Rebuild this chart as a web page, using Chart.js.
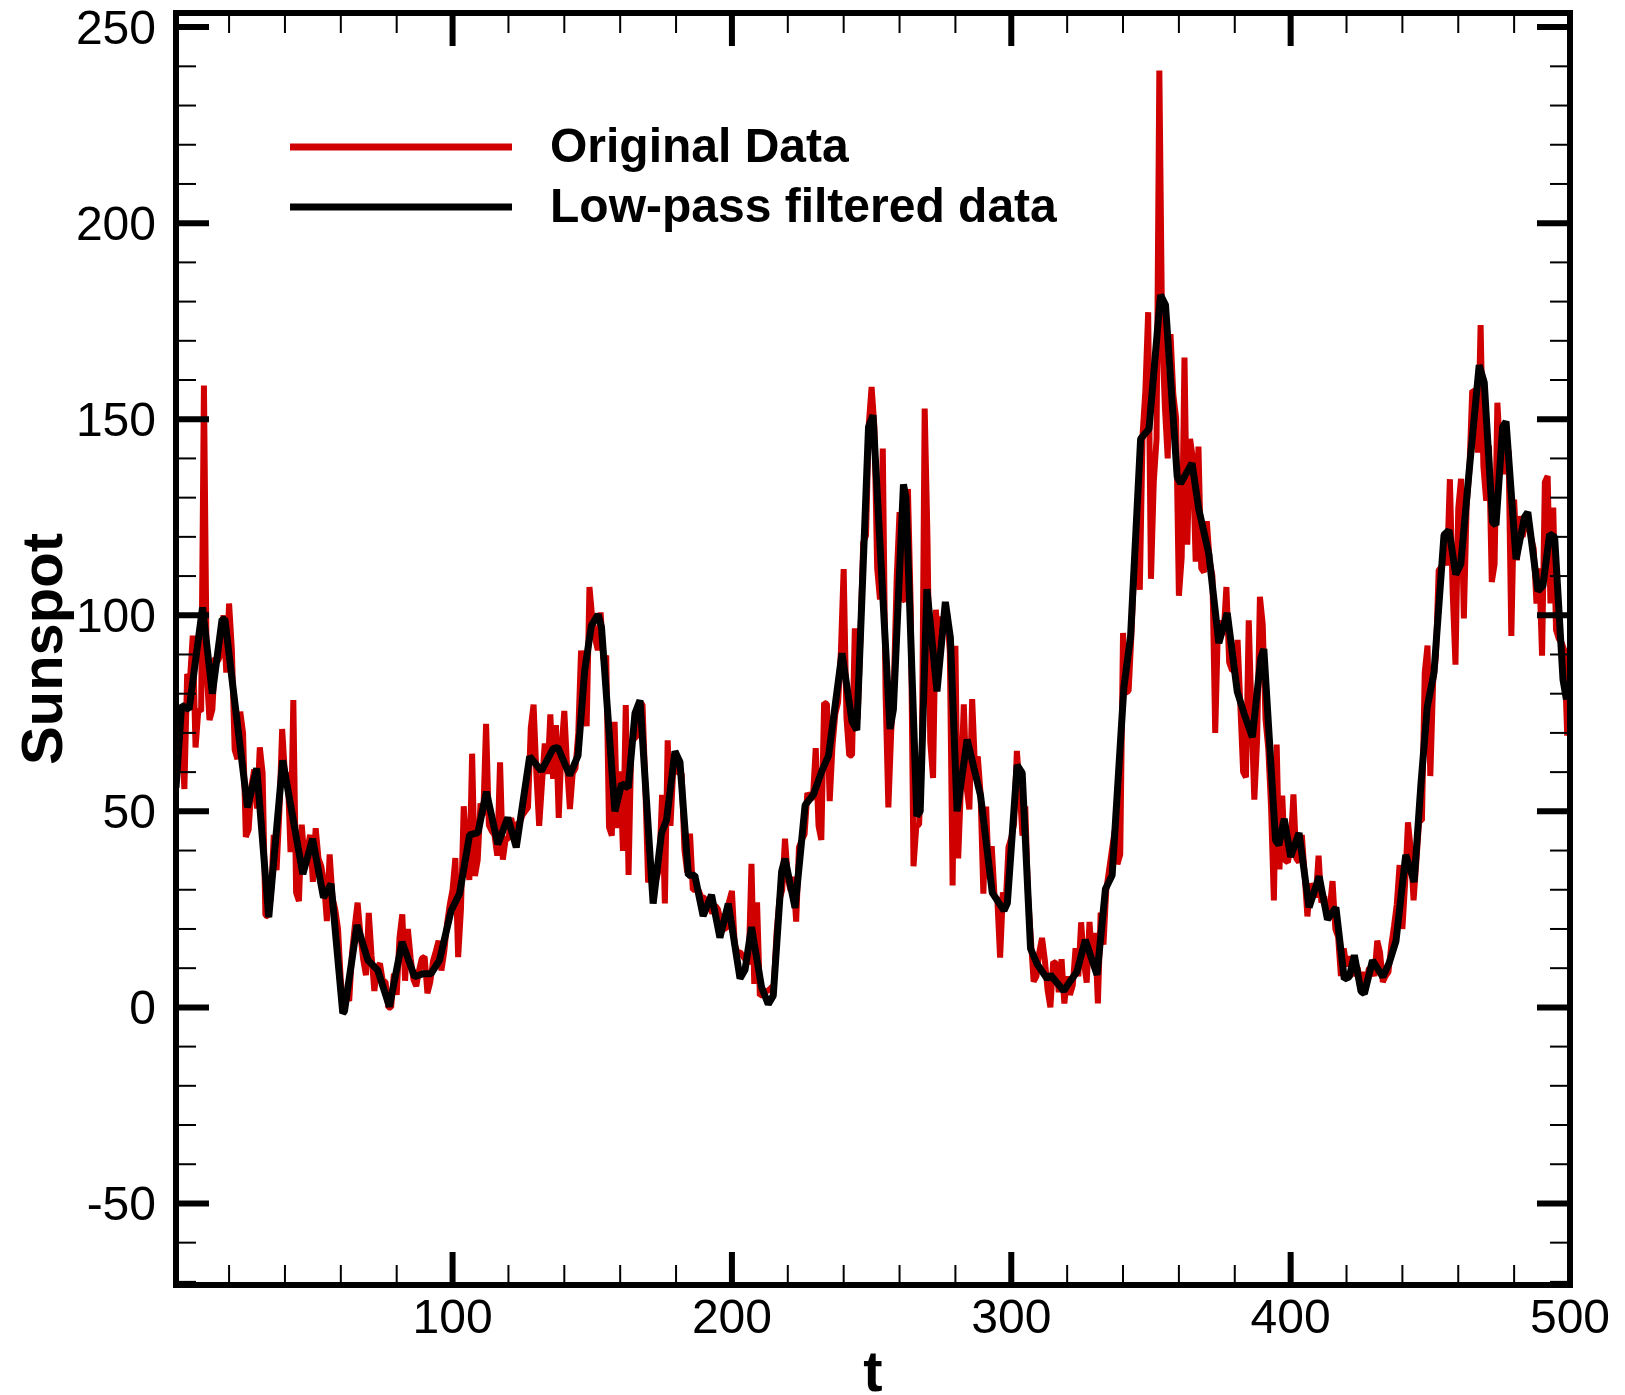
<!DOCTYPE html>
<html>
<head>
<meta charset="utf-8">
<title>Sunspot</title>
<script src="https://cdn.jsdelivr.net/npm/chart.js@4.4.1/dist/chart.umd.min.js"></script>
<style>
  html, body { margin: 0; padding: 0; background: #fff; }
  #wrap { width: 1625px; height: 1395px; }
</style>
</head>
<body>
<div id="wrap"><canvas id="myChart" width="1625" height="1395"></canvas></div>
<script>
// monthly sunspot numbers, t = 1..500
const originalData = [
  58.0, 62.6, 70.0, 55.7, 85.0, 83.5, 94.8, 66.3, 75.9, 75.5, 158.6, 85.2,
  73.3, 75.9, 89.2, 88.3, 90.0, 100.0, 85.4, 103.0, 91.2, 65.7, 63.3, 75.4,
  70.0, 43.5, 45.3, 56.4, 60.7, 50.7, 66.3, 59.8, 23.5, 23.2, 28.5, 44.0,
  35.0, 50.0, 71.0, 59.3, 59.7, 39.6, 78.4, 29.3, 27.1, 46.6, 37.6, 40.0,
  44.0, 32.0, 45.7, 38.0, 36.0, 31.7, 22.0, 39.0, 28.0, 25.0, 20.0, 6.7,
  0.0, 3.0, 1.7, 13.7, 20.7, 26.7, 18.8, 12.3, 8.2, 24.1, 13.2, 4.2,
  10.2, 11.2, 6.8, 6.5, 0.0, 0.0, 8.6, 3.2, 17.8, 23.7, 6.8, 20.0,
  12.5, 7.1, 5.4, 9.4, 12.5, 12.9, 3.6, 6.4, 11.8, 14.3, 17.0, 9.4,
  14.1, 21.2, 26.2, 30.0, 38.1, 12.8, 25.0, 51.3, 39.7, 32.5, 64.7, 33.5,
  37.6, 52.0, 49.0, 72.3, 46.4, 45.0, 44.0, 38.7, 62.5, 37.7, 43.0, 43.0,
  48.3, 44.0, 46.8, 47.0, 49.0, 50.0, 51.0, 71.3, 77.2, 59.7, 46.3, 57.0,
  67.3, 59.5, 74.7, 58.3, 72.0, 48.3, 66.0, 75.6, 61.3, 50.6, 59.7, 61.0,
  70.0, 91.0, 80.7, 71.7, 107.2, 99.3, 94.1, 91.1, 100.7, 88.7, 89.7, 46.0,
  43.8, 72.8, 45.7, 60.2, 39.9, 77.1, 33.8, 67.7, 68.5, 69.3, 77.8, 77.2,
  56.5, 31.9, 34.2, 32.9, 32.7, 35.8, 54.2, 26.5, 68.1, 46.3, 60.9, 61.4,
  59.7, 59.7, 40.2, 34.4, 44.3, 30.0, 30.0, 30.0, 28.2, 28.0, 26.0, 25.7,
  24.0, 26.0, 25.0, 22.0, 20.2, 20.0, 27.0, 29.7, 16.0, 14.0, 14.0, 13.0,
  12.0, 11.0, 36.6, 6.0, 26.8, 3.0, 3.3, 4.0, 4.3, 5.0, 5.7, 19.2,
  27.4, 30.0, 43.0, 32.9, 29.8, 33.3, 21.9, 40.8, 42.7, 44.1, 54.7, 53.3,
  53.5, 66.1, 46.3, 42.7, 77.7, 77.4, 52.6, 66.8, 74.8, 77.8, 90.6, 111.8,
  73.9, 64.2, 64.3, 96.7, 73.6, 94.4, 118.6, 120.3, 148.8, 158.2, 148.1, 112.0,
  104.0, 142.5, 80.1, 51.0, 70.1, 83.3, 109.8, 126.3, 104.4, 103.6, 132.2, 102.3,
  36.0, 46.2, 46.7, 64.9, 152.7, 119.5, 67.7, 58.5, 101.4, 90.0, 99.7, 95.7,
  100.9, 90.8, 31.1, 92.2, 38.0, 57.0, 77.3, 56.2, 50.5, 78.6, 61.3, 64.0,
  54.6, 29.0, 51.2, 32.9, 41.1, 28.4, 27.7, 12.7, 29.3, 26.3, 40.9, 43.2,
  46.8, 65.4, 55.7, 43.8, 51.3, 28.5, 17.5, 6.6, 7.9, 14.0, 17.7, 12.2,
  4.4, 0.0, 11.6, 11.2, 3.9, 12.3, 1.0, 7.9, 3.2, 5.6, 15.1, 7.9,
  21.7, 11.6, 6.3, 21.8, 11.2, 19.0, 1.0, 24.2, 16.0, 30.0, 35.0, 40.0,
  45.0, 36.5, 39.0, 95.5, 80.3, 80.7, 95.0, 112.0, 116.2, 106.5, 146.0, 157.3,
  177.3, 109.3, 134.0, 145.0, 238.9, 171.6, 153.0, 140.0, 171.7, 156.3, 150.3, 105.0,
  114.7, 165.7, 118.0, 145.0, 140.0, 113.7, 143.0, 112.0, 111.0, 124.0, 114.0, 110.0,
  70.0, 98.0, 98.0, 95.0, 107.2, 88.0, 86.0, 86.0, 93.7, 77.0, 60.0, 58.7,
  98.7, 74.7, 53.0, 68.3, 104.7, 97.7, 73.5, 66.0, 51.0, 27.3, 67.0, 35.2,
  54.0, 37.5, 37.0, 41.0, 54.3, 38.0, 37.0, 44.0, 34.0, 23.2, 31.5, 30.0,
  28.0, 38.7, 26.7, 28.3, 23.0, 25.2, 32.2, 20.0, 18.0, 8.0, 15.0, 10.5,
  13.0, 8.0, 11.0, 10.0, 6.0, 9.0, 6.0, 10.0, 10.0, 8.0, 17.0, 14.0,
  6.5, 8.0, 9.0, 15.7, 20.7, 26.3, 36.3, 20.0, 32.0, 47.2, 40.2, 27.3,
  37.2, 47.6, 47.7, 85.4, 92.3, 59.0, 83.0, 89.7, 111.5, 112.3, 116.0, 112.7,
  134.7, 106.0, 87.4, 127.2, 134.8, 99.2, 128.0, 137.2, 157.3, 157.0, 141.5, 174.0,
  138.0, 129.2, 143.3, 108.5, 113.0, 154.2, 141.5, 136.0, 141.0, 142.0, 94.7, 129.5,
  114.0, 125.3, 120.0, 123.3, 123.5, 120.0, 117.0, 103.0, 112.0, 89.7, 134.0, 135.5,
  103.0, 127.5, 96.3, 94.0, 93.0, 91.0, 69.3, 87.0
];

// low-pass filtered curve at its corners
const filteredT = [
  1, 3, 5.7, 10.5, 14, 17.5, 18.5, 21.5, 26.6, 29.9, 34.2, 39.2, 46.4, 49.9, 53.8, 56.5, 60.7, 61.3,
  65.8, 69.7, 73.2, 77.4, 81.9, 86.4, 89.4, 92.3, 95.3, 99.5, 102.5, 106.1, 109.1, 112.1, 116.2, 119.8,
  122.8, 127.6, 131.8, 136, 137.7, 141.9, 144.9, 147.3, 149.7, 152.1, 153.3, 158.1, 160.5, 162.9,
  165.3, 167.1, 171.8, 174.8, 176.6, 179.6, 181.4, 184.4, 186.7, 189.7, 192.7, 195.7, 198.7, 202.9,
  204.7, 207, 210.6, 213, 214.8, 217.8, 219, 222.6, 226.2, 229.2, 232.2, 234.6, 239.4, 243, 244.7,
  248.9, 250.5, 256.6, 257.8, 261.4, 262.3, 266.2, 267.4, 269.8, 273.4, 276.4, 278.2, 280.6, 284.2,
  289, 293.2, 297.4, 298.6, 302.1, 303.9, 306.9, 309.3, 312.9, 314, 318.8, 321.1, 323.5, 326.5, 330.7,
  333.7, 336.1, 340.3, 342.7, 346.3, 349.3, 353.4, 355.2, 359.4, 360.6, 364.7, 367.1, 370.7, 374.3,
  377.3, 380.9, 383.3, 386.3, 389.3, 390.4, 394.6, 395.8, 397.7, 400, 403, 406.6, 410.2, 413.2, 416.2,
  419.2, 421, 422.8, 425.2, 426.4, 429.3, 433, 435.3, 437.7, 441.2, 444.2, 446.6, 448.9, 451.3, 454.9,
  456.7, 459.1, 460.9, 463.9, 467.5, 469.3, 472.3, 473.5, 475.9, 477.1, 480.7, 483.7, 484.9, 488.5,
  490.3, 492.7, 494.5, 497.5, 498.7, 500
];
const filteredV = [
  56, 77, 76, 102, 80, 99, 99, 81, 51, 61, 23, 63, 34, 43, 28, 31.5, -1.5, -1,
  21, 12, 9.5, 0.2, 16.7, 7.8, 8.6, 8.6, 12, 24.7, 29, 44, 44.6, 55, 41.6, 48.4,
  40.8, 64, 60.3, 66, 66.3, 59.2, 64.2, 86, 97.4, 100.2, 97, 50, 57, 56,
  75, 78.3, 26.5, 44.5, 47.8, 65.3, 62.6, 33.7, 33.7, 23.3, 28.7, 17.8, 26.5, 7.4,
  9.6, 20.5, 5.2, 0.8, 3, 34.7, 37.9, 25.4, 51.6, 54.3, 60.3, 64.2, 90.3, 72.9, 70.7,
  148, 151, 71, 76, 133.4, 130, 48.8, 50, 106.7, 80.6, 103.4, 94.3, 50, 68.3,
  54, 29.2, 24.7, 26.6, 61.8, 59.8, 15, 11, 7.2, 8.3, 4.2, 6.7, 9.1, 17.2, 8.3,
  30.2, 33.7, 81.6, 94.6, 145, 147.5, 181.7, 179.2, 135.3, 133.6, 138.8, 127.1, 115.7, 92.9,
  100.6, 80.5, 75, 68.9, 89, 91.4, 42.6, 41.4, 48.1, 38.4, 44.5, 25.5, 33.4, 22.4, 25.5,
  7.2, 7.8, 13.3, 4.1, 3.5, 12, 7.8, 11.4, 16.9, 38.9, 32, 56.5, 76.6, 85.3, 120.5,
  121.7, 110.4, 113, 136.8, 163.8, 159.4, 123.7, 123, 148.1, 149.4, 114.3, 125, 126.3, 106.2,
  107.5, 120.7, 120, 83.6, 78.6, 82
];

const xTickLabels = [100, 200, 300, 400, 500];
const yTickLabels = [-50, 0, 50, 100, 150, 200, 250];

const fontName = '"Liberation Sans", Arial, Helvetica, sans-serif';
const redColor = "rgb(208,0,0)";

const originalPoints = originalData.map((v, i) => ({ x: i + 1, y: v }));
const filteredPoints = filteredT.map((t, i) => ({ x: t, y: filteredV[i] }));

// minor tick positions (every 20 on t, every 10 on Sunspot)
const xMinor = [];
for (let t = 20; t < 500; t += 20) if (t % 100 !== 0) xMinor.push(t);
const yMinor = [];
for (let v = -70; v < 254; v += 10) if (v % 50 !== 0) yMinor.push(v);

//draws the frame, inward ticks, labels, titles and legend
const framePlugin = {
  id: "frame",
  afterDatasetsDraw(chart) {
    const ctx = chart.ctx;
    const { left, right, top, bottom } = chart.chartArea;
    const xs = chart.scales.x;
    const ys = chart.scales.y;

    const seg = (x1, y1, x2, y2) => {
      ctx.beginPath();
      ctx.moveTo(x1, y1);
      ctx.lineTo(x2, y2);
      ctx.stroke();
    };

    ctx.save();
    ctx.strokeStyle = "#000";
    ctx.lineCap = "butt";

    ctx.lineWidth = 2;
    yMinor.forEach((v) => {
      const py = ys.getPixelForValue(v);
      seg(left, py, left + 20, py);
      seg(right, py, right - 20, py);
    });
    xMinor.forEach((t) => {
      const px = xs.getPixelForValue(t);
      seg(px, bottom, px, bottom - 20);
      seg(px, top, px, top + 20);
    });

    ctx.lineWidth = 6;
    yTickLabels.forEach((v) => {
      const py = ys.getPixelForValue(v);
      seg(left, py, left + 33, py);
      seg(right, py, right - 33, py);
    });
    xTickLabels.forEach((t) => {
      const px = xs.getPixelForValue(t);
      seg(px, bottom, px, bottom - 33);
      seg(px, top, px, top + 33);
    });

    ctx.lineWidth = 6;
    ctx.lineJoin = "miter";
    ctx.strokeRect(left, top, right - left, bottom - top);

    // tick labels
    ctx.fillStyle = "#000";
    ctx.font = "48px " + fontName;
    ctx.textBaseline = "alphabetic";
    ctx.textAlign = "right";
    yTickLabels.forEach((v) => {
      ctx.fillText(String(v), left - 20, ys.getPixelForValue(v) + 17);
    });
    ctx.textAlign = "center";
    xTickLabels.forEach((t) => {
      ctx.fillText(String(t), xs.getPixelForValue(t), bottom + 48);
    });

    // axis titles
    ctx.font = "bold 58px " + fontName;
    ctx.fillText("t", (left + right) / 2, 1391);
    ctx.save();
    ctx.translate(62, (top + bottom) / 2);
    ctx.rotate(-Math.PI / 2);
    ctx.fillText("Sunspot", 0, 0);
    ctx.restore();

    // legend
    ctx.lineWidth = 7;
    ctx.strokeStyle = redColor;
    seg(290, 147, 512, 147);
    ctx.strokeStyle = "#000";
    seg(290, 207, 512, 207);
    ctx.font = "bold 48px " + fontName;
    ctx.textAlign = "left";
    ctx.fillText("Original Data", 550, 162);
    ctx.fillText("Low-pass filtered data", 550, 222);

    ctx.restore();
  },
};

const config = {
  type: "line",
  data: {
    datasets: [
      {
        label: "Low-pass filtered data",
        data: filteredPoints,
        borderColor: "#000",
        borderWidth: 7,
        borderJoinStyle: "bevel",
        pointRadius: 0,
        tension: 0,
        order: 1,
      },
      {
        label: "Original Data",
        data: originalPoints,
        borderColor: redColor,
        borderWidth: 6,
        borderJoinStyle: "bevel",
        pointRadius: 0,
        tension: 0,
        order: 2,
      },
    ],
  },
  options: {
    responsive: false,
    animation: false,
    devicePixelRatio: 1,
    layout: { padding: { left: 176, top: 13, right: 55, bottom: 110 } },
    scales: {
      x: { type: "linear", min: 1, max: 500, display: false },
      y: { type: "linear", min: -70.8, max: 253.6, display: false },
    },
    plugins: { legend: { display: false }, tooltip: { enabled: false } },
  },
  plugins: [framePlugin],
};

let myChart = new Chart(document.getElementById("myChart"), config);
</script>
</body>
</html>
